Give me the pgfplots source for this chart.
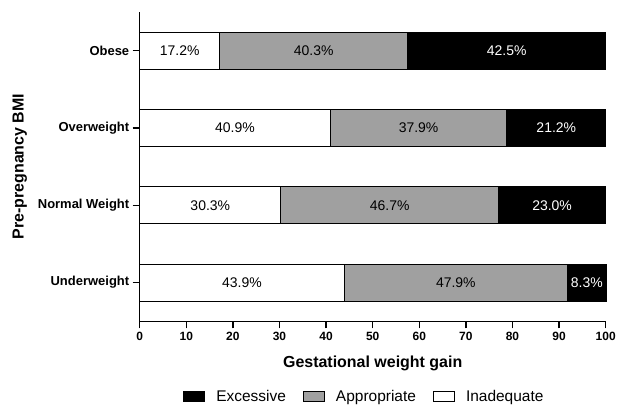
\documentclass[border=0pt]{standalone}
\usepackage{pgfplots}
\pgfplotsset{compat=1.18}
\usepackage{fontspec}
\setmainfont{Liberation Sans}
\definecolor{apgray}{RGB}{160,160,160}
\begin{document}
\begin{tikzpicture}
\begin{axis}[
  name=main,
  scale only axis, width=467pt, height=310pt,
  xbar stacked, bar width=37pt,
  xmin=0, xmax=100, ymin=-0.5, ymax=3.5,
  clip=false,
  axis lines*=left,
  axis line style={line width=1.5pt, black},
  xtick={0,10,...,100},
  ytick={0,1,2,3},
  yticklabels={Underweight,Normal Weight,Overweight,Obese},
  tick style={line width=1.5pt, black},
  tick align=outside, major tick length=7pt,
  /pgf/number format/assume math mode=true,
  xticklabel style={font=\fontsize{12}{14}\selectfont\bfseries},
  yticklabel style={font=\fontsize{13}{15}\selectfont\bfseries},
  xlabel={Gestational weight gain},
  ylabel={Pre-pregnancy BMI},
  xlabel style={font=\fontsize{16}{18}\selectfont\bfseries, at={(axis description cs:0.5,-0.135)}, anchor=center},
  ylabel style={font=\fontsize{16}{18}\selectfont\bfseries, at={(axis description cs:-0.257,0.5)}, anchor=center},
  legend style={at={(axis description cs:0.482,-0.242)}, anchor=center, draw=none,
    font=\fontsize{15.5}{18}\selectfont,
    /tikz/every odd column/.append style={column sep=9pt},
    /tikz/every even column/.append style={column sep=15pt}},
  legend columns=-1,
  reverse legend,
  legend image code/.code={\draw[#1,draw=black,line width=1.2pt] (0pt,-5pt) rectangle (21pt,5pt);},
  visualization depends on={rawx \as \rawx},
  nodes near coords={\pgfmathprintnumber[fixed,fixed zerofill,precision=1]{\rawx}\%},
  every node near coord/.append style={anchor=center, font=\fontsize{14}{16}\selectfont},
]
\addplot[fill=white, draw=black, line width=1pt, every node near coord/.append style={text=black}]
  coordinates {(43.9,0) (30.3,1) (40.9,2) (17.2,3)};
\addlegendentry{Inadequate}
\addplot[fill=apgray, draw=black, line width=1pt, every node near coord/.append style={text=black}]
  coordinates {(47.9,0) (46.7,1) (37.9,2) (40.3,3)};
\addlegendentry{Appropriate}
\addplot[fill=black, draw=black, line width=1pt, every node near coord/.append style={text=white}]
  coordinates {(8.3,0) (23.0,1) (21.2,2) (42.5,3)};
\addlegendentry{Excessive}
\end{axis}
\path ([shift={(-140pt,-84pt)}]main.south west) rectangle ([shift={(12pt,12pt)}]main.north east);
\end{tikzpicture}
\end{document}
